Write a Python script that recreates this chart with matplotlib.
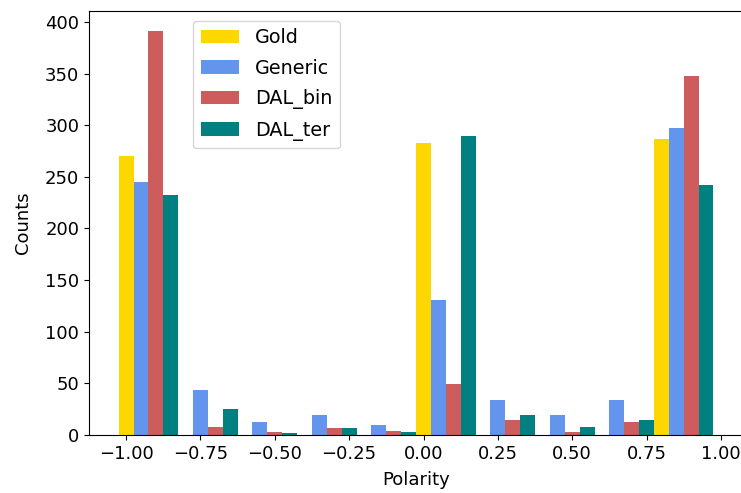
import matplotlib
matplotlib.use("Agg")
import matplotlib.pyplot as plt
import numpy as np

# bin edges of the polarity histogram (10 bins from -1 to 1)
edges = np.linspace(-1, 1, 11)

# counts per bin
gold = [270, 0, 0, 0, 0, 283, 0, 0, 0, 287]
generic = [245, 44, 13, 19, 10, 131, 34, 19, 34, 297]
dal_bin = [391, 8, 3, 7, 4, 49, 15, 3, 13, 348]
dal_ter = [232, 25, 2, 7, 3, 290, 19, 8, 15, 242]

labels = ["Gold", "Generic", "DAL_bin", "DAL_ter"]
colors = ["gold", "cornflowerblue", "indianred", "teal"]
series = [gold, generic, dal_bin, dal_ter]

plt.rcParams["font.size"] = 13

fig = plt.figure(figsize=(7.41, 4.93), dpi=100)
ax = fig.add_axes([0.120, 0.1176, 0.883, 0.860])

w = 0.05
for i, (vals, lab, col) in enumerate(zip(series, labels, colors)):
    ax.bar(edges[:-1] + i * w, vals, width=w, color=col, label=lab)

ax.set_xticks([-1.0, -0.75, -0.5, -0.25, 0.0, 0.25, 0.5, 0.75, 1.0])
ax.set_yticks(range(0, 401, 50))
ax.set_xlabel("Polarity", labelpad=6)
ax.set_ylabel("Counts", labelpad=9)
ax.legend(loc="upper left", bbox_to_anchor=(0.145, 1.0), fontsize=13.8,
          labelspacing=0.6)

fig.savefig("out.png", dpi=100)
